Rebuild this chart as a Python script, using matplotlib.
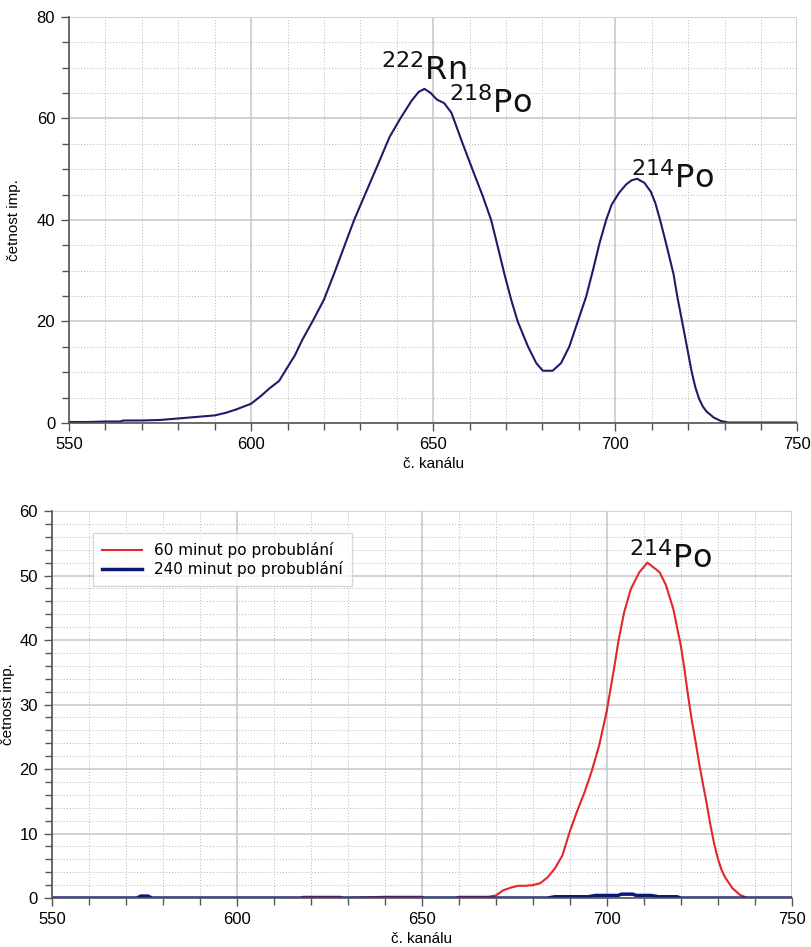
import matplotlib
matplotlib.use("Agg")
import matplotlib.pyplot as plt
from matplotlib.ticker import MultipleLocator

# ---------------- data ----------------
top_x = [550, 555, 560, 564, 565, 570, 575, 580, 585, 590, 593, 596, 600, 603, 605, 607.7,
         610, 612, 614, 617, 620, 623, 626, 628.3, 632, 635, 638, 641, 644, 646, 647.6, 649.3,
         651, 653, 655, 658, 660.8, 663.6, 665.9, 667.7, 669.5, 671.4, 673.2, 676, 678.3, 680.1,
         682.8, 685.1, 687.4, 689.7, 692, 693.9, 695.7, 697.5, 699, 701, 703, 704.5, 706, 708, 709.8,
         711, 712.3, 714, 716, 717, 718, 720, 721, 722, 723, 724, 725, 727, 729, 731, 750]
top_y = [0.2, 0.2, 0.3, 0.3, 0.5, 0.5, 0.6, 0.9, 1.2, 1.5, 2.0, 2.7, 3.8, 5.5, 6.8, 8.3,
         11.0, 13.3, 16.3, 20.2, 24.3, 29.8, 35.6, 40.0, 46.2, 51.2, 56.3, 60.0, 63.4, 65.2, 65.8, 65.0,
         63.7, 63.0, 61.1, 55.2, 49.9, 44.7, 40.0, 34.8, 29.5, 24.3, 20.0, 15.1, 11.8, 10.3,
         10.3, 11.8, 15.1, 20.0, 24.9, 30.2, 35.5, 40.0, 43.0, 45.3, 47.0, 47.8, 48.1, 47.3, 45.5,
         43.3, 40.0, 35.2, 29.3, 25.0, 21.3, 13.8, 10.0, 7.0, 4.8, 3.3, 2.3, 1.1, 0.4, 0.1, 0.1]

bot_x_red = [550, 617, 618, 628, 629, 640, 650, 651, 659, 660, 668, 670, 672, 674, 676, 678,
             680, 682, 684, 686, 688, 690, 692, 694, 696, 698, 700, 702, 703.2, 704.7, 706.5, 708.8,
             711, 714.3, 716, 718, 720, 721, 722, 723, 724, 725, 726, 727, 728, 729, 730, 731,
             732, 734, 736, 738, 750]
bot_y_red = [0, 0, 0.2, 0.2, 0, 0.2, 0.2, 0, 0, 0.2, 0.2, 0.4, 1.2, 1.6, 1.9, 1.9,
             2.0, 2.3, 3.2, 4.6, 6.6, 10.3, 13.5, 16.4, 19.8, 23.8, 29.0, 35.7, 40.0, 44.3, 47.9, 50.5,
             52.0, 50.5, 48.5, 44.8, 39.2, 35.5, 31.3, 27.5, 24.3, 20.8, 17.7, 14.7, 11.4, 8.5, 6.2, 4.4,
             3.2, 1.5, 0.5, 0, 0]

bot_x_blue = [550, 573, 574, 576, 577, 684, 686, 695, 697, 703, 704, 707, 708, 712, 714, 719, 720, 750]
bot_y_blue = [0, 0, 0.3, 0.3, 0, 0, 0.2, 0.2, 0.4, 0.4, 0.6, 0.6, 0.4, 0.4, 0.2, 0.2, 0, 0]

x_ticks = [550, 600, 650, 700, 750]
top_y_ticks = [0, 20, 40, 60, 80]
bot_y_ticks = [0, 10, 20, 30, 40, 50, 60]
legend_labels = ["60 minut po probublání", "240 minut po probublání"]
x_label = "č. kanálu"
y_label = "četnost imp."

# ---------------- style ----------------
NAVY = "#1c1c6a"
RED = "#e3262a"
BLUE = "#0c1878"
TICKFONT = "Liberation Sans"

fig = plt.figure(figsize=(8.12, 9.47), dpi=100)


def style_axes(ax, ymajor, yminor):
    ax.set_xlim(550, 750)
    ax.xaxis.set_major_locator(MultipleLocator(50))
    ax.xaxis.set_minor_locator(MultipleLocator(10))
    ax.yaxis.set_major_locator(MultipleLocator(ymajor))
    ax.yaxis.set_minor_locator(MultipleLocator(yminor))
    ax.grid(which="major", color="#c9c9c9", linewidth=1.2, linestyle="-")
    ax.grid(which="minor", color="#b8b8b8", linewidth=0.7, linestyle=(0, (1, 2)))
    ax.set_axisbelow(True)
    for s in ["top", "right"]:
        ax.spines[s].set_visible(False)
    for s in ["left", "bottom"]:
        ax.spines[s].set_color("#555555")
        ax.spines[s].set_linewidth(1.2)
    ax.tick_params(which="major", direction="out", length=6, width=1, color="#555555",
                   labelsize=12, pad=4)
    ax.tick_params(which="minor", direction="out", length=5, width=1, color="#555555")
    for lab in ax.get_xticklabels() + ax.get_yticklabels():
        lab.set_fontfamily(TICKFONT)
    ax.set_xlabel(x_label, fontsize=11, family=TICKFONT, labelpad=4)


def annot(xpix, ypix, mass, sym):
    fig.text(xpix / 812, 1 - ypix / 947, r"$^{" + mass + "}$" + sym, fontsize=23,
             family="DejaVu Sans", va="baseline", ha="left", color="#111111")


# top panel
ax1 = fig.add_axes([0.085, 0.5533, 0.897, 0.429])
ax1.plot(top_x, top_y, color=NAVY, linewidth=1.5, solid_joinstyle="round")
ax1.set_ylim(0, 80)
ax1.set_xticks(x_ticks)
ax1.set_yticks(top_y_ticks)
style_axes(ax1, 20, 5)
ax1.set_ylabel(y_label, fontsize=11, family=TICKFONT)
ax1.yaxis.set_label_coords(-0.066, 0.5)

annot(381, 80, "222", "Rn")
annot(449, 113, "218", "Po")
annot(631, 188, "214", "Po")

# bottom panel
ax2 = fig.add_axes([0.064, 0.0517, 0.911, 0.4087])
l1, = ax2.plot(bot_x_red, bot_y_red, color=RED, linewidth=1.5, solid_joinstyle="round")
l2, = ax2.plot(bot_x_blue, bot_y_blue, color=BLUE, linewidth=2.5)
ax2.set_ylim(0, 60)
ax2.set_xticks(x_ticks)
ax2.set_yticks(bot_y_ticks)
style_axes(ax2, 10, 2)
ax2.set_ylabel(y_label, fontsize=11, family=TICKFONT)
ax2.yaxis.set_label_coords(-0.05, 0.5)
annot(629, 568, "214", "Po")

leg = ax2.legend([l1, l2], legend_labels, loc="upper left", bbox_to_anchor=(0.0554, 0.943),
                 borderaxespad=0, frameon=True, fancybox=False, handlelength=2.6,
                 handletextpad=0.8, borderpad=0.6, labelspacing=0.2,
                 prop={"family": "DejaVu Sans", "size": 11})
leg.get_frame().set_edgecolor("#cccccc")
leg.get_frame().set_linewidth(1.0)

fig.savefig("out.png", dpi=100)
